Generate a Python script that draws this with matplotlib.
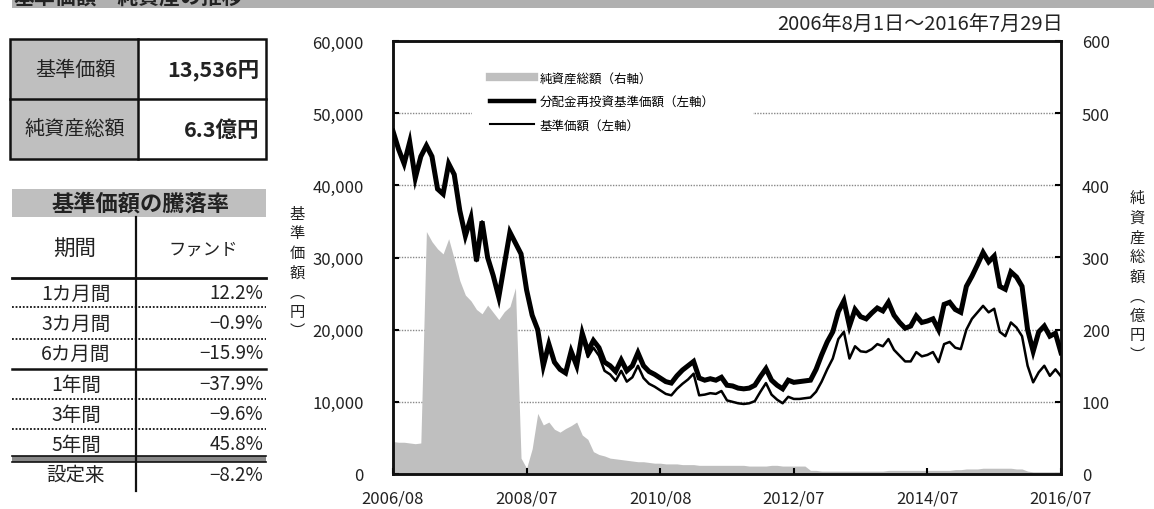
import numpy as np
import matplotlib
matplotlib.use("Agg")
import matplotlib.pyplot as plt
from matplotlib.patches import Rectangle
from matplotlib.lines import Line2D

plt.rcParams['font.family'] = ['Noto Sans CJK JP', 'DejaVu Sans']

# monthly readings, 2006/08 .. 2016/07
nav_reinvest = [
    47500, 45000, 43000, 46000, 41000, 44000, 45500, 44000, 39500, 38800,
    43000, 41500, 36500, 33000, 35500, 29500, 35000, 30000, 27500, 24500,
    29000, 33500, 32000, 30500, 25500, 22000, 20000, 15000, 18000, 15500,
    14500, 14000, 17000, 15000, 19500, 17000, 18500, 17500, 15500, 15000,
    14200, 15800, 14300, 15000, 16800, 15000, 14200, 13800, 13300, 12800,
    12600, 13600, 14400, 15000, 15600, 13300, 13000, 13200, 13000, 13400,
    12300, 12200, 11900, 11800, 11900, 12300, 13500, 14600, 13000, 12300,
    11800, 13000, 12700, 12800, 12900, 13000, 14500, 16500, 18300, 19700,
    22500, 24000, 20500, 22800, 21800, 21500, 22300, 23000, 22600, 23800,
    22000, 21000, 20200, 20500, 21900, 21000, 21200, 21500, 20000, 23500,
    23800, 22800, 22400, 26000, 27400, 29000, 30700, 29400, 30200, 26000,
    25600, 28000, 27300, 26000, 20000, 17000, 19700, 20500, 19100, 19500,
    16800,
]
nav = [
    47500, 45000, 43000, 46000, 41000, 44000, 45500, 44000, 39500, 38800,
    43000, 41500, 36500, 33000, 35500, 29500, 35000, 30000, 27500, 24500,
    29000, 33500, 32000, 30500, 25500, 22000, 20000, 15000, 18000, 15500,
    14500, 14000, 17000, 15000, 19000, 16200, 17500, 16400, 14300, 13800,
    12900, 14300, 12800, 13400, 15000, 13300, 12500, 12100, 11600, 11100,
    10900, 11800, 12500, 13100, 13900, 10900, 11000, 11200, 11100, 11500,
    10200, 10000, 9800, 9700, 9800, 10100, 11400, 12600, 11000, 10300,
    9800, 10700, 10400, 10400, 10500, 10600, 11400, 12800, 14500, 16000,
    18700, 19700, 16000, 17700, 17000, 16900, 17300, 18000, 17700, 18700,
    17200, 16400, 15600, 15600, 16900, 16300, 16500, 16900, 15500, 18000,
    18300, 17500, 17300, 20000, 21500, 22400, 23300, 22400, 22900, 19700,
    19100, 21000, 20300, 19100, 15000, 12700, 14100, 15000, 13600, 14500,
    13536,
]
net_assets = [
    45, 44, 44, 43, 42, 43, 336, 322, 312, 305,
    326, 298, 268, 248, 240, 228, 222, 234, 224, 214,
    225, 232, 258, 22, 8, 35, 84, 68, 72, 62,
    58, 63, 67, 72, 54, 48, 31, 27, 25, 22,
    21, 20, 19, 18, 17, 17, 16, 15, 15, 14,
    14, 14, 13, 13, 13, 12, 12, 12, 12, 12,
    12, 12, 12, 12, 11, 11, 11, 11, 12, 12,
    11, 11, 11, 11, 11, 5, 5, 4, 4, 4,
    4, 4, 4, 4, 4, 4, 4, 4, 4, 5,
    5, 5, 5, 5, 5, 5, 5, 5, 5, 5,
    5, 6, 6, 7, 7, 7, 8, 8, 8, 8,
    8, 8, 7, 7, 4, 3, 3, 3, 3, 3,
    3,
]
xtick_pos = [0, 24, 48, 72, 96, 120]
xtick_labels = ['2006/08', '2008/07', '2010/08', '2012/07', '2014/07', '2016/07']

periods = ['1カ月間', '3カ月間', '6カ月間', '1年間', '3年間', '5年間', '設定来']
returns = ['12.2%', '−0.9%', '−15.9%', '−37.9%', '−9.6%', '45.8%', '−8.2%']

W, H = 1154, 510
fig = plt.figure(figsize=(W / 100, H / 100), dpi=100)
txt = '#222222'
gray = '#bfbfbf'

# overlay in pixel coords for the tables
ov = fig.add_axes([0, 0, 1, 1])
ov.set_xlim(0, W)
ov.set_ylim(H, 0)
ov.axis('off')

# header band (cut off at top, as in the source)
ov.add_patch(Rectangle((12, 0), W - 12, 9, facecolor='#b0b0b0', edgecolor='none'))
ov.text(14, 8, '基準価額・純資産の推移', fontsize=15, fontweight='bold',
        color=txt, va='bottom', ha='left', clip_on=False)

# table 1
ov.add_patch(Rectangle((10, 40), 128, 120, facecolor=gray, edgecolor='none'))
ov.add_patch(Rectangle((10, 40), 256, 120, facecolor='none', edgecolor='#111', lw=1.8))
ov.plot([10, 266], [100, 100], color='#111', lw=1.8)
ov.plot([138, 138], [40, 160], color='#111', lw=1.8)
ov.text(75, 70, '基準価額', fontsize=14.5, ha='center', va='center', color=txt)
ov.text(75, 130, '純資産総額', fontsize=14.5, ha='center', va='center', color=txt)
ov.text(259, 70, '13,536円', fontsize=15.5, fontweight='bold', ha='right', va='center', color=txt)
ov.text(259, 130, '6.3億円', fontsize=15.5, fontweight='bold', ha='right', va='center', color=txt)

# table 2
ov.add_patch(Rectangle((12, 190), 254, 28, facecolor=gray, edgecolor='none'))
ov.text(140, 204, '基準価額の騰落率', fontsize=16, fontweight='bold',
        ha='center', va='center', color=txt)
ov.plot([136, 136], [218, 492], color='#111', lw=1.6)
ov.text(75, 250, '期間', fontsize=15.5, ha='center', va='center', color=txt)
ov.text(203, 250, 'ファンド', fontsize=12.5, ha='center', va='center', color=txt)
ov.plot([12, 266], [279, 279], color='#111', lw=2)
row_y = [294, 324, 354, 385, 415, 445, 476]
for y, p, r in zip(row_y, periods, returns):
    ov.text(76, y, p, fontsize=14, ha='center', va='center', color=txt)
    ov.text(263, y, r, fontsize=13.5, ha='right', va='center', color=txt)
for y in [308, 340, 400, 430]:
    ov.plot([12, 266], [y, y], color='#111', lw=1.3, ls=(0, (1, 1)))
ov.plot([12, 266], [370, 370], color='#111', lw=1.8)
ov.add_patch(Rectangle((12, 457), 254, 6, facecolor='#888888', edgecolor='none'))
ov.plot([12, 266], [457, 457], color='#111', lw=1.2)
ov.plot([12, 266], [463, 463], color='#111', lw=1.2)

# main chart
x = np.arange(len(nav))
ax = fig.add_axes([393 / W, 35 / H, 668 / W, 433 / H])
ax2 = ax.twinx()
ax.set_zorder(ax2.get_zorder() + 1)
ax.patch.set_visible(False)

ax2.fill_between(x, 0, net_assets, color=gray, lw=0, zorder=2)
ax2.set_ylim(0, 600)
ax2.set_yticks(range(0, 601, 100))
ax2.set_axisbelow(True)
ax2.grid(axis='y', color='#888888', lw=1, ls=(0, (1, 1)))

ax.plot(x, nav_reinvest, color='black', lw=3.6, solid_joinstyle='miter', zorder=3)
ax.plot(x, nav, color='black', lw=1.8, zorder=4)
ax.set_xlim(0, 120)
ax.set_ylim(0, 60000)
ax.set_yticks(range(0, 60001, 10000))
ax.set_yticklabels([f'{v:,}' for v in range(0, 60001, 10000)])
ax.set_xticks(xtick_pos)
ax.set_xticklabels(xtick_labels)

for a in (ax, ax2):
    for s in a.spines.values():
        s.set_linewidth(1.8)
        s.set_color('#111')
ax.tick_params(axis='y', direction='in', length=4, width=1.5, pad=21, labelsize=12, labelcolor=txt)
ax.tick_params(axis='x', direction='in', length=4, width=1.5, pad=11, labelsize=12, labelcolor=txt)
ax2.tick_params(axis='y', direction='in', length=4, width=1.5, pad=15, labelsize=12, labelcolor=txt)

# white box behind the legend, masking the grid
ax.add_patch(Rectangle((0.118, 0.751), 0.421, 0.203, transform=ax.transAxes,
                       facecolor='white', edgecolor='none', zorder=1))
handles = [
    Line2D([], [], color=gray, lw=6),
    Line2D([], [], color='black', lw=3.2),
    Line2D([], [], color='black', lw=1.5),
]
labels = ['純資産総額（右軸）', '分配金再投資基準価額（左軸）', '基準価額（左軸）']
ax.legend(handles, labels, loc='upper left', bbox_to_anchor=(0.145, 0.93),
          borderaxespad=0, borderpad=0, frameon=False, fontsize=9,
          handlelength=3.5, handletextpad=0.5, labelspacing=0.85)

# axis titles, stacked vertically
ov.text(297, 273, '\n'.join('基準価額︵円︶'), fontsize=11, ha='center', va='center',
        color=txt, linespacing=1.2)
ov.text(1137, 277, '\n'.join('純資産総額︵億円︶'), fontsize=11, ha='center', va='center',
        color=txt, linespacing=1.2)

ov.text(1063, 25, '2006年8月1日～2016年7月29日', fontsize=14.5, ha='right', va='center', color=txt)

fig.savefig('out.png', dpi=100)
